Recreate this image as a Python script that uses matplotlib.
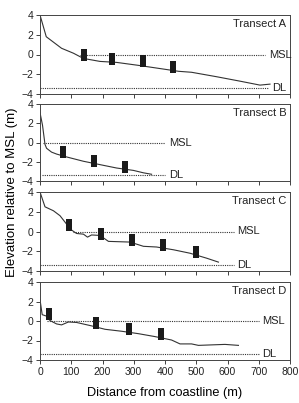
import numpy as np
import matplotlib
matplotlib.use("Agg")
from matplotlib import pyplot as plt

# profile data (distance m, elevation m)
a_x = [0, 20, 69, 107, 139, 192, 245, 315, 379, 443, 485, 565, 640, 704, 736]
a_y = [4.0, 1.8, 0.63, 0.13, -0.4, -0.7, -0.8, -1.1, -1.4, -1.7, -1.8, -2.25, -2.7, -3.1, -3.0]
b_x = [0, 8, 16, 21, 37, 53, 85, 139, 192, 245, 299, 331, 357]
b_y = [3.1, 1.8, -0.2, -0.6, -1.0, -1.2, -1.5, -1.95, -2.3, -2.65, -2.9, -3.15, -3.3]
c_x = [0, 16, 43, 64, 85, 101, 117, 139, 152, 165, 192, 219, 288, 331, 373, 427, 480, 533, 571]
c_y = [4.0, 2.5, 2.1, 1.6, 0.75, 0.15, -0.2, -0.27, -0.57, -0.35, -0.4, -1.0, -1.07, -1.5, -1.57, -1.85, -2.2, -2.7, -3.1]
d_x = [0, 7, 21, 32, 53, 69, 91, 117, 165, 208, 261, 315, 368, 421, 448, 485, 507, 549, 592, 635]
d_y = [2.2, 0.65, 0.5, 0.05, -0.3, -0.4, -0.1, -0.15, -0.5, -0.85, -1.05, -1.3, -1.6, -1.95, -2.35, -2.35, -2.5, -2.45, -2.4, -2.5]

# sampling points
a_px = [141, 229, 331, 427]
a_py = [0.0, -0.5, -0.7, -1.25]
b_px = [73, 172, 272]
b_py = [-1.0, -1.95, -2.58]
c_px = [93, 195, 295, 395, 499]
c_py = [0.7, -0.25, -0.9, -1.4, -2.1]
d_px = [29, 178, 285, 386]
d_py = [0.7, -0.2, -0.85, -1.3]

# MSL / DL extents (start, end)
msl_ext = [(128, 720), (10, 400), (107, 620), (21, 700)]
dl_ext = [(0, 730), (5, 400), (0, 620), (0, 700)]
dl_level = -3.35
names = ["Transect A", "Transect B", "Transect C", "Transect D"]

profiles = [(a_x, a_y), (b_x, b_y), (c_x, c_y), (d_x, d_y)]
points = [(a_px, a_py), (b_px, b_py), (c_px, c_py), (d_px, d_py)]

W, H = 299, 403
panel_px = [(15, 94), (104, 181), (192, 271), (282, 360)]
rect_marker = [(-0.3, -0.5), (0.3, -0.5), (0.3, 0.5), (-0.3, 0.5), (-0.3, -0.5)]

plt.rcParams["font.family"] = ["Liberation Sans", "DejaVu Sans"]
fig = plt.figure(figsize=(W / 100, H / 100), dpi=100)

for i in range(4):
    top, bot = panel_px[i]
    ax = fig.add_axes([40 / W, 1 - bot / H, 250 / W, (bot - top) / H])
    px, py = profiles[i]
    ax.plot(px, py, color="#333333", lw=0.8)
    m0, m1 = msl_ext[i]
    ax.plot([m0, m1], [0, 0], color="#333333", lw=0.8, linestyle=(0, (1, 1)))
    d0, d1 = dl_ext[i]
    ax.plot([d0, d1], [dl_level, dl_level], color="#333333", lw=0.8, linestyle=(0, (1, 1)))
    ax.text(m1 + 12, 0, "MSL", fontsize=8, va="center", ha="left", color="#222222")
    ax.text(d1 + 12, dl_level, "DL", fontsize=8, va="center", ha="left", color="#222222")
    sx, sy = points[i]
    ax.plot(sx, sy, linestyle="none", marker=rect_marker, markersize=8,
            color="#1a1a1a", markeredgewidth=0)
    ax.text(0.985, 0.95, names[i], transform=ax.transAxes, fontsize=8,
            ha="right", va="top", color="#222222")
    ax.set_xlim(0, 800)
    ax.set_ylim(-4, 4)
    ax.set_xticks(np.arange(0, 801, 100))
    ax.set_yticks([-4, -2, 0, 2, 4])
    ax.tick_params(labelsize=7.5, length=3, width=0.6, direction="out", pad=2, colors="#222222")
    for sp in ax.spines.values():
        sp.set_linewidth(0.7)
        sp.set_color("#444444")
    if i < 3:
        ax.set_xticklabels([])
    else:
        ax.set_xlabel("Distance from coastline (m)", fontsize=9.2, labelpad=7)

fig.text(0.04, 1 - 192 / H, "Elevation relative to MSL (m)", rotation=90,
         fontsize=9.5, ha="center", va="center")

fig.savefig("out.png", dpi=100)
